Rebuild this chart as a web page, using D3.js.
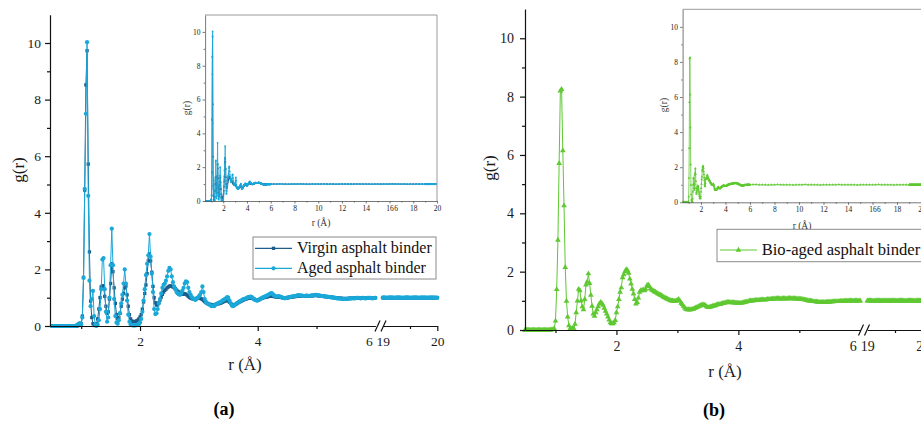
<!DOCTYPE html>
<html>
<head>
<meta charset="utf-8">
<script src="https://cdn.jsdelivr.net/npm/d3@7"></script>
<style>
  body { margin: 0; background: #fff; }
  svg { display: block; }
  svg text { font-family: 'Liberation Serif', 'Times New Roman', Times, serif; }
</style>
</head>
<body>
<svg id="fig" width="921" height="428"></svg>
<script>
// ---------- data: radial distribution functions g(r) ----------
// short-range grid: r = 0.50 ... 6.00 Å in steps of 0.02 Å (276 samples)
const nearStart = 0.5, nearStep = 0.02;

const gVirgin = [
  0,0,0,0,0,0,0,0,0,0,
  0,0,0,0,0,0,0,0,0,0,
  0,0,0.01,0.02,0.05,0.08,0.35,1.72,4.8,8.52,
  9.73,5.72,2.62,0.88,0.3,0.08,0.02,0.02,0.08,0.25,
  0.6,1.0,1.38,1.42,1.41,1.05,0.7,0.45,0.5,0.95,
  1.5,2.2,1.92,1.35,0.8,0.4,0.27,0.3,0.45,0.7,
  0.95,1.15,1.35,1.41,1.1,0.7,0.4,0.25,0.18,0.15,
  0.15,0.16,0.18,0.2,0.25,0.32,0.4,0.6,0.85,1.15,
  1.45,1.85,2.3,2.55,2.3,1.9,1.4,1.0,0.82,0.74,
  0.75,0.82,0.92,1.02,1.12,1.2,1.26,1.3,1.35,1.38,
  1.41,1.42,1.4,1.38,1.36,1.32,1.27,1.23,1.2,1.17,
  1.14,1.12,1.13,1.14,1.12,1.09,1.05,1.01,0.99,0.97,
  0.96,0.95,0.96,0.98,1.0,1.0,0.98,0.96,0.94,0.9,
  0.86,0.83,0.8,0.78,0.77,0.76,0.75,0.74,0.75,0.76,
  0.77,0.78,0.79,0.8,0.82,0.84,0.86,0.88,0.9,0.9,
  0.88,0.84,0.8,0.76,0.74,0.74,0.76,0.78,0.81,0.84,
  0.86,0.88,0.9,0.92,0.94,0.95,0.97,0.98,0.99,1.0,
  0.99,0.97,0.95,0.93,0.92,0.92,0.93,0.95,0.97,0.99,
  1.0,1.01,1.02,1.03,1.04,1.05,1.06,1.06,1.05,1.04,
  1.03,1.02,1.02,1.03,1.02,1.01,1.0,0.99,0.99,0.99,
  1.0,1.0,1.01,1.02,1.02,1.03,1.04,1.04,1.05,1.05,
  1.06,1.06,1.05,1.05,1.06,1.06,1.05,1.05,1.06,1.06,
  1.06,1.07,1.07,1.08,1.08,1.08,1.07,1.07,1.06,1.06,
  1.05,1.05,1.04,1.04,1.03,1.03,1.02,1.02,1.01,1.01,
  1.0,1.0,0.99,0.99,0.98,0.98,0.98,0.97,0.97,0.97,
  0.97,0.97,0.97,0.98,0.98,0.98,0.98,0.99,0.99,0.99,
  0.99,0.99,0.99,1.0,1.0,1.0,1.0,0.99,0.99,1.0,
  1.0,1.0,1.0,1.0,1.0,1.0
];

const gAged = [
  0,0,0,0,0,0,0,0,0,0,
  0,0,0,0,0,0,0,0,0,0,
  0,0.02,0.05,0.08,0.1,0.06,0.3,1.7,4.85,7.5,
  10.03,4.6,1.6,0.7,0.95,1.24,0.35,0.05,0,0.05,
  0.2,0.6,1.3,2.35,2.4,1.3,0.5,0.15,0.3,1.0,
  2.15,3.44,2.15,0.95,0.35,0.12,0.08,0.2,0.45,0.8,
  1.1,1.5,2.0,1.5,0.9,0.4,0.15,0.05,0.03,0.02,
  0.02,0.02,0.03,0.04,0.06,0.12,0.25,0.5,0.9,1.3,
  1.8,2.2,2.5,3.25,2.45,1.85,1.2,0.6,0.42,0.45,
  0.6,0.8,0.95,1.15,1.35,1.45,1.5,1.6,1.75,1.95,
  2.05,2.0,1.75,1.55,1.4,1.3,1.2,1.15,1.12,1.1,
  1.15,1.25,1.35,1.5,1.58,1.55,1.35,1.2,1.1,1.02,
  0.98,0.95,0.92,0.95,1.0,1.05,1.1,1.2,1.4,1.2,
  0.95,0.85,0.8,0.78,0.75,0.72,0.7,0.72,0.7,0.75,
  0.78,0.8,0.82,0.84,0.86,0.9,0.92,0.95,0.98,1.02,
  1.0,0.9,0.8,0.72,0.7,0.72,0.76,0.8,0.82,0.85,
  0.88,0.9,0.93,0.95,0.96,0.98,1.0,1.02,1.03,1.04,
  1.02,0.98,0.94,0.92,0.9,0.9,0.92,0.95,0.98,1.0,
  1.02,1.04,1.06,1.08,1.1,1.13,1.15,1.16,1.12,1.08,
  1.05,1.04,1.05,1.06,1.04,1.02,1.0,0.99,0.98,0.99,
  1.0,1.01,1.02,1.03,1.04,1.05,1.06,1.06,1.07,1.08,
  1.09,1.08,1.07,1.07,1.06,1.06,1.07,1.07,1.06,1.06,
  1.07,1.08,1.08,1.09,1.1,1.1,1.09,1.08,1.07,1.06,
  1.06,1.05,1.05,1.04,1.04,1.03,1.02,1.02,1.01,1.0,
  1.0,0.99,0.98,0.98,0.97,0.97,0.96,0.96,0.96,0.96,
  0.96,0.96,0.97,0.97,0.97,0.98,0.98,0.98,0.98,0.99,
  0.99,0.99,0.98,0.98,0.99,0.99,0.98,0.98,0.99,0.99,
  0.99,0.99,0.98,0.98,0.99,0.99
];

const gBio = [
  0,0,0,0,0,0,0,0,0,0,
  0,0,0,0,0,0,0,0,0,0,
  0,0,0.01,0.02,0.05,0.31,1.39,3.08,5.71,8.2,
  8.25,6.15,4.26,2.15,0.99,0.45,0.15,0.05,0.03,0.05,
  0.05,0.2,0.6,1.0,1.4,1.35,1.0,0.8,0.7,1.05,
  1.55,1.65,1.93,1.6,1.2,0.82,0.55,0.48,0.6,0.7,
  0.8,0.9,0.95,0.92,0.85,0.75,0.65,0.55,0.45,0.35,
  0.25,0.22,0.22,0.25,0.33,0.6,0.8,1.05,1.3,1.45,
  1.8,1.9,2.0,2.07,2.05,1.95,1.75,1.58,1.4,1.24,
  1.05,0.9,0.95,1.1,1.3,1.35,1.36,1.38,1.35,1.4,
  1.52,1.55,1.5,1.42,1.38,1.35,1.32,1.3,1.27,1.25,
  1.22,1.2,1.18,1.15,1.12,1.1,1.08,1.06,1.04,1.02,
  1.0,1.0,0.99,0.99,1.0,1.02,1.05,1.0,0.92,0.88,
  0.82,0.76,0.72,0.7,0.7,0.69,0.7,0.71,0.72,0.74,
  0.76,0.78,0.8,0.82,0.84,0.86,0.87,0.86,0.84,0.8,
  0.78,0.78,0.79,0.8,0.82,0.83,0.84,0.86,0.87,0.88,
  0.88,0.9,0.91,0.92,0.93,0.94,0.95,0.95,0.95,0.94,
  0.94,0.94,0.93,0.93,0.93,0.92,0.92,0.92,0.93,0.94,
  0.95,0.96,0.97,0.98,0.99,1.0,1.0,1.01,1.01,1.02,
  1.02,1.02,1.03,1.03,1.04,1.04,1.04,1.03,1.04,1.05,
  1.05,1.05,1.06,1.06,1.07,1.07,1.08,1.08,1.08,1.07,
  1.07,1.08,1.08,1.08,1.07,1.08,1.08,1.09,1.08,1.08,
  1.08,1.08,1.07,1.07,1.07,1.06,1.06,1.05,1.05,1.04,
  1.03,1.02,1.01,1.0,1.0,0.99,0.98,0.98,0.97,0.97,
  0.96,0.96,0.95,0.95,0.95,0.95,0.95,0.96,0.96,0.96,
  0.96,0.97,0.97,0.97,0.98,0.98,0.98,0.98,0.98,0.99,
  0.99,0.99,0.99,0.99,1.0,1.0,1.0,1.0,1.0,1.0,
  1.0,1.0,1.0,1.0,1.0,1.0
];

// mid-range grid (inset only): r = 6.25 ... 18.75 Å in steps of 0.25 Å (51 samples)
const midStart = 6.25, midStep = 0.25;
const gVirginMid = [
  1.0,1.0,1.01,1.0,1.0,0.99,1.0,1.0,1.0,1.01,
  1.0,1.0,0.99,1.0,1.0,1.0,1.0,1.01,1.0,1.0,
  1.0,0.99,1.0,1.0,1.0,1.0,1.0,1.0,1.01,1.0,
  1.0,1.0,1.0,0.99,1.0,1.0,1.0,1.0,1.0,1.0,
  1.01,1.0,1.0,1.0,1.0,0.99,1.0,1.0,1.0,1.0,
  1.0
];
const gAgedMid = [
  1.0,1.01,1.01,1.0,0.99,1.0,1.0,1.01,1.0,1.0,
  1.0,0.99,1.0,1.0,1.01,1.0,1.0,1.0,0.99,1.0,
  1.0,1.0,1.01,1.0,1.0,1.0,0.99,1.0,1.0,1.0,
  1.01,1.0,1.0,1.0,1.0,1.0,0.99,1.0,1.0,1.01,
  1.0,1.0,1.0,1.0,1.01,1.0,1.0,0.99,1.0,1.0,
  1.0
];
const gBioMid = [
  1.01,1.01,1.0,1.0,1.0,0.99,1.0,1.0,1.01,1.0,
  1.0,1.0,1.0,0.99,1.0,1.0,1.0,1.01,1.0,1.0,
  1.0,1.0,0.99,1.0,1.0,1.0,1.0,1.0,1.01,1.0,
  1.0,1.0,1.0,1.0,0.99,1.0,1.0,1.0,1.0,1.0,
  1.0,1.01,1.0,1.0,1.0,1.0,0.99,1.0,1.0,1.0,
  1.0
];

// long-range grid: r = 19.00 ... 20.00 Å in steps of 0.02 Å (51 samples)
const tailStart = 19, tailStep = 0.02;
const gVirginTail = [
  1.0,1.0,0.99,1.0,1.0,1.0,1.01,1.0,1.0,0.99,
  1.0,1.0,1.0,1.01,1.0,0.99,1.0,1.0,1.0,1.0,
  0.99,1.0,1.0,1.01,1.0,1.0,1.0,0.99,1.0,1.0,
  1.0,1.01,1.0,1.0,0.99,1.0,1.0,1.0,1.0,1.01,
  1.0,1.0,0.99,1.0,1.0,1.0,1.0,1.01,1.0,1.0,
  1.0
];
const gAgedTail = [
  1.0,1.01,1.0,1.0,0.99,1.0,1.0,1.0,1.01,1.0,
  1.0,0.99,1.0,1.0,1.0,1.01,1.0,1.0,0.99,1.0,
  1.0,1.0,1.01,1.0,1.0,0.99,1.0,1.0,1.0,1.01,
  1.0,1.0,1.0,0.99,1.0,1.0,1.01,1.0,1.0,1.0,
  0.99,1.0,1.0,1.0,1.01,1.0,1.0,1.0,0.99,1.0,
  1.0
];
const gBioTail = [
  1.0,1.0,1.01,1.0,1.0,0.99,1.0,1.0,1.0,1.01,
  1.0,1.0,0.99,1.0,1.0,1.0,1.01,1.0,1.0,1.0,
  0.99,1.0,1.0,1.0,1.01,1.0,1.0,0.99,1.0,1.0,
  1.0,1.01,1.0,1.0,1.0,0.99,1.0,1.0,1.01,1.0,
  1.0,1.0,0.99,1.0,1.0,1.01,1.0,1.0,1.0,0.99,
  1.0
];

const seriesNames = ["Virgin asphalt binder", "Aged asphalt binder", "Bio-aged asphalt binder"];
const yMajorTicks = [0, 2, 4, 6, 8, 10];
const yMinorTicks = [1, 3, 5, 7, 9];
const xMajorTicksNear = [2, 4];
const xMinorTicksNear = [1, 3, 5];
const insetXMajorTicks = [2, 4, 6, 8, 10, 12, 14, 16, 18, 20];
const insetXMinorTicks = [1, 3, 5, 7, 9, 11, 13, 15, 17, 19];

// ---------- helpers ----------
const serif = "'Liberation Serif','Times New Roman',Times,serif";
const toPoints = (vals, start, step) => vals.map((g, i) => ({ r: +(start + i * step).toFixed(3), g }));

const series = {
  virgin: { name: seriesNames[0], color: "#1d5d8c", shape: d3.symbolSquare, size: 11, insetSize: 2.5,
            near: toPoints(gVirgin, nearStart, nearStep), mid: toPoints(gVirginMid, midStart, midStep), tail: toPoints(gVirginTail, tailStart, tailStep) },
  aged:   { name: seriesNames[1], color: "#1aa8d8", shape: d3.symbolCircle, size: 14, insetSize: 2.5,
            near: toPoints(gAged, nearStart, nearStep), mid: toPoints(gAgedMid, midStart, midStep), tail: toPoints(gAgedTail, tailStart, tailStep) },
  bio:    { name: seriesNames[2], color: "#5fc832", shape: d3.symbolTriangle, size: 14, insetSize: 3,
            near: toPoints(gBio, nearStart, nearStep), mid: toPoints(gBioMid, midStart, midStep), tail: toPoints(gBioTail, tailStart, tailStep) }
};

const svg = d3.select("#fig");

function styleAxis(sel, color, width, fontSize) {
  sel.attr("font-family", serif).attr("font-size", fontSize);
  sel.select(".domain").attr("stroke", color).attr("stroke-width", width);
  sel.selectAll(".tick line").attr("stroke", color).attr("stroke-width", width);
  sel.selectAll(".tick text").attr("fill", "#1a1a1a").style("font-family", serif);
}
function minorAxis(sel, color, width) {
  sel.select(".domain").remove();
  sel.selectAll(".tick line").attr("stroke", color).attr("stroke-width", width);
  sel.selectAll(".tick text").remove();
}

function drawSeries(g, s, x, y, pts, lw, msize) {
  g.append("path").datum(pts)
    .attr("fill", "none").attr("stroke", s.color).attr("stroke-width", lw)
    .attr("d", d3.line().x(d => x(d.r)).y(d => y(d.g)));
  const sym = d3.symbol().type(s.shape).size(msize);
  g.append("g").selectAll("path").data(pts).join("path")
    .attr("transform", d => `translate(${x(d.r)},${y(d.g)})`)
    .attr("d", sym).attr("fill", s.color);
}

// ---------- one panel: main plot with broken r axis, inset, legend ----------
function drawPanel(P) {
  const root = svg.append("g");
  const y = d3.scaleLinear().domain([0, 11]).range([P.y0, P.yTop]);
  const xA = d3.scaleLinear().domain([P.r0, 6]).range([P.xLeft, P.xBreak]);
  const xB = d3.scaleLinear().domain([19, 20]).range([P.x19, P.x20]);
  const axisColor = "#111";

  // data (drawn first so axes sit on top)
  const dataG = root.append("g");
  P.keys.forEach(k => {
    const s = series[k];
    drawSeries(dataG, s, xA, y, s.near, 1, s.size);
    drawSeries(dataG, s, xB, y, s.tail, 1, s.size);
  });

  // y axis
  root.append("g").attr("transform", `translate(${P.xLeft},0)`)
    .call(d3.axisLeft(y).tickValues(yMajorTicks).tickSize(5).tickSizeOuter(0).tickPadding(P.padY).tickFormat(d3.format("d")))
    .call(sel => styleAxis(sel, axisColor, 1.2, P.tickFont));
  root.append("g").attr("transform", `translate(${P.xLeft},0)`)
    .call(d3.axisLeft(y).tickValues(yMinorTicks).tickSize(3))
    .call(sel => minorAxis(sel, axisColor, 1.2));

  // x axis, first segment
  root.append("g").attr("transform", `translate(0,${P.y0})`)
    .call(d3.axisBottom(xA).tickValues(xMajorTicksNear).tickSize(5).tickSizeOuter(0).tickPadding(P.padX).tickFormat(d3.format("d")))
    .call(sel => styleAxis(sel, axisColor, 1.2, P.tickFont));
  root.append("g").attr("transform", `translate(0,${P.y0})`)
    .call(d3.axisBottom(xA).tickValues(xMinorTicksNear).tickSize(3))
    .call(sel => minorAxis(sel, axisColor, 1.2));
  // x axis, second segment
  root.append("g").attr("transform", `translate(0,${P.y0})`)
    .call(d3.axisBottom(xB).tickValues([19, 20]).tickSize(5).tickSizeOuter(0).tickPadding(P.padX).tickFormat(d3.format("d")))
    .call(sel => styleAxis(sel, axisColor, 1.2, P.tickFont))
    .call(sel => sel.selectAll(".tick line").filter(d => d === 19).remove());
  root.append("g").attr("transform", `translate(0,${P.y0})`)
    .call(d3.axisBottom(xB).tickValues([19.5]).tickSize(3))
    .call(sel => minorAxis(sel, axisColor, 1.2));
  // label at the end of the first segment
  root.append("text").attr("x", P.xBreak - P.sixOffset).attr("y", P.y0 + 5 + P.padX).attr("dy", "0.71em")
    .attr("text-anchor", "middle").attr("font-family", serif).attr("font-size", P.tickFont).attr("fill", "#1a1a1a").text("6");
  // break marks
  P.slashes.forEach(cx => {
    root.append("line").attr("x1", cx - 2.5).attr("y1", P.y0 + 5.5).attr("x2", cx + 2.5).attr("y2", P.y0 - 5.5)
      .attr("stroke", axisColor).attr("stroke-width", 1.2);
  });

  // axis titles
  root.append("text").attr("transform", `translate(${P.yTitle[0]},${P.yTitle[1]}) rotate(-90)`)
    .attr("text-anchor", "middle").attr("dy", "0.35em").attr("font-family", serif).attr("font-size", 17).attr("fill", "#1a1a1a").text("g(r)");
  root.append("text").attr("x", P.xTitle[0]).attr("y", P.xTitle[1])
    .attr("text-anchor", "middle").attr("font-family", serif).attr("font-size", 17).attr("fill", "#1a1a1a").text("r (Å)");
  root.append("text").attr("x", P.tag[0]).attr("y", P.tag[1])
    .attr("text-anchor", "middle").attr("font-family", serif).attr("font-size", 18).attr("font-weight", "bold").attr("fill", "#000").text(P.tagText);

  // ---------- inset: full range 0.5–20 Å ----------
  const I = P.inset;
  const ig = root.append("g");
  const ix = d3.scaleLinear().domain([P.r0, 20]).range([I.x0, I.x1]);
  const iy = d3.scaleLinear().domain([0, 11]).range([I.y0, I.yTop]);
  ig.append("rect").attr("x", I.x0).attr("y", I.yTop).attr("width", I.x1 - I.x0).attr("height", I.y0 - I.yTop).attr("fill", "#fff");
  const clipId = "clip-" + P.tagText.replace(/\W/g, "");
  ig.append("clipPath").attr("id", clipId).append("rect")
    .attr("x", I.x0).attr("y", I.yTop - 2).attr("width", I.x1 - I.x0).attr("height", I.y0 - I.yTop + 4);
  const idata = ig.append("g").attr("clip-path", `url(#${clipId})`);
  P.keys.forEach(k => {
    const s = series[k];
    drawSeries(idata, s, ix, iy, s.near.concat(s.mid, s.tail), 0.8, s.insetSize);
  });
  // frame: top and right edges
  ig.append("path").attr("d", `M${I.x0},${I.yTop}H${I.x1}V${I.y0}`).attr("fill", "none").attr("stroke", "#9a9a9a").attr("stroke-width", 1);
  const insetAxisColor = "#555";
  ig.append("g").attr("transform", `translate(${I.x0},0)`)
    .call(d3.axisLeft(iy).tickValues(yMajorTicks).tickSize(2.5).tickSizeOuter(0).tickPadding(2).tickFormat(d3.format("d")))
    .call(sel => styleAxis(sel, insetAxisColor, 0.8, 7.5));
  ig.append("g").attr("transform", `translate(${I.x0},0)`)
    .call(d3.axisLeft(iy).tickValues(yMinorTicks).tickSize(1.5))
    .call(sel => minorAxis(sel, insetAxisColor, 0.8));
  ig.append("g").attr("transform", `translate(0,${I.y0})`)
    .call(d3.axisBottom(ix).tickValues(insetXMajorTicks).tickSize(2.5).tickSizeOuter(0).tickPadding(2).tickFormat(d3.format("d")))
    .call(sel => styleAxis(sel, insetAxisColor, 0.8, 7.5));
  ig.append("g").attr("transform", `translate(0,${I.y0})`)
    .call(d3.axisBottom(ix).tickValues(insetXMinorTicks).tickSize(1.5))
    .call(sel => minorAxis(sel, insetAxisColor, 0.8));
  // stray digit printed beside the 16 label
  ig.append("text").attr("x", ix(16) + 6.5).attr("y", I.y0 + 4.5).attr("dy", "0.71em").attr("text-anchor", "middle")
    .attr("font-family", serif).attr("font-size", 7.5).attr("fill", "#1a1a1a").text("6");
  ig.append("text").attr("transform", `translate(${I.yTitle[0]},${I.yTitle[1]}) rotate(-90)`)
    .attr("text-anchor", "middle").attr("dy", "0.35em").attr("font-family", serif).attr("font-size", 9.5).attr("fill", "#333").text("g(r)");
  ig.append("text").attr("x", I.xTitle[0]).attr("y", I.xTitle[1])
    .attr("text-anchor", "middle").attr("font-family", serif).attr("font-size", 9.5).attr("fill", "#333").text("r (Å)");

  // ---------- legend ----------
  const L = P.legend;
  const lg = root.append("g");
  lg.append("rect").attr("x", L.x).attr("y", L.y).attr("width", L.w).attr("height", L.h)
    .attr("fill", "#fff").attr("stroke", "#8a8a8a").attr("stroke-width", 1);
  P.keys.forEach((k, i) => {
    const s = series[k];
    const cy = L.rows[i];
    lg.append("line").attr("x1", L.lineX[0]).attr("x2", L.lineX[1]).attr("y1", cy).attr("y2", cy)
      .attr("stroke", s.color).attr("stroke-width", 1.2);
    lg.append("path").attr("transform", `translate(${(L.lineX[0] + L.lineX[1]) / 2},${cy})`)
      .attr("d", d3.symbol().type(s.shape).size(s.size)()).attr("fill", s.color);
    lg.append("text").attr("x", L.textX).attr("y", cy + L.baseShift)
      .attr("font-family", serif).attr("font-size", L.font).attr("fill", "#111").text(s.name);
  });
}

// ---------- layouts ----------
drawPanel({
  tagText: "(a)", keys: ["virgin", "aged"],
  r0: 0.47, xLeft: 50, xBreak: 375.4, x19: 382.7, x20: 437.3, y0: 326, yTop: 14.7,
  tickFont: 13.5, padX: 5, padY: 4, sixOffset: 6,
  slashes: [377.5, 383.5],
  yTitle: [18, 170], xTitle: [245, 370], tag: [224, 415],
  inset: { x0: 205.1, x1: 437, y0: 201, yTop: 15, yTitle: [187, 108], xTitle: [321, 226] },
  legend: { x: 253, y: 237, w: 183, h: 42, rows: [248.3, 268.3], lineX: [255, 292], textX: 297, font: 16, baseShift: 4.5 }
});

drawPanel({
  tagText: "(b)", keys: ["bio"],
  r0: 0.5, xLeft: 525, xBreak: 860.3, x19: 867.3, x20: 922.7, y0: 330, yTop: 9.1,
  tickFont: 14, padX: 6, padY: 6, sixOffset: 7,
  slashes: [861, 867],
  yTitle: [489, 168], xTitle: [725, 377], tag: [714, 416],
  inset: { x0: 682.6, x1: 921.5, y0: 202.3, yTop: 9.3, yTitle: [664, 105], xTitle: [802, 229] },
  legend: { x: 717, y: 229.3, w: 210, h: 32.4, rows: [250], lineX: [720, 757], textX: 761.7, font: 16.6, baseShift: 4.8 }
});
</script>
</body>
</html>
